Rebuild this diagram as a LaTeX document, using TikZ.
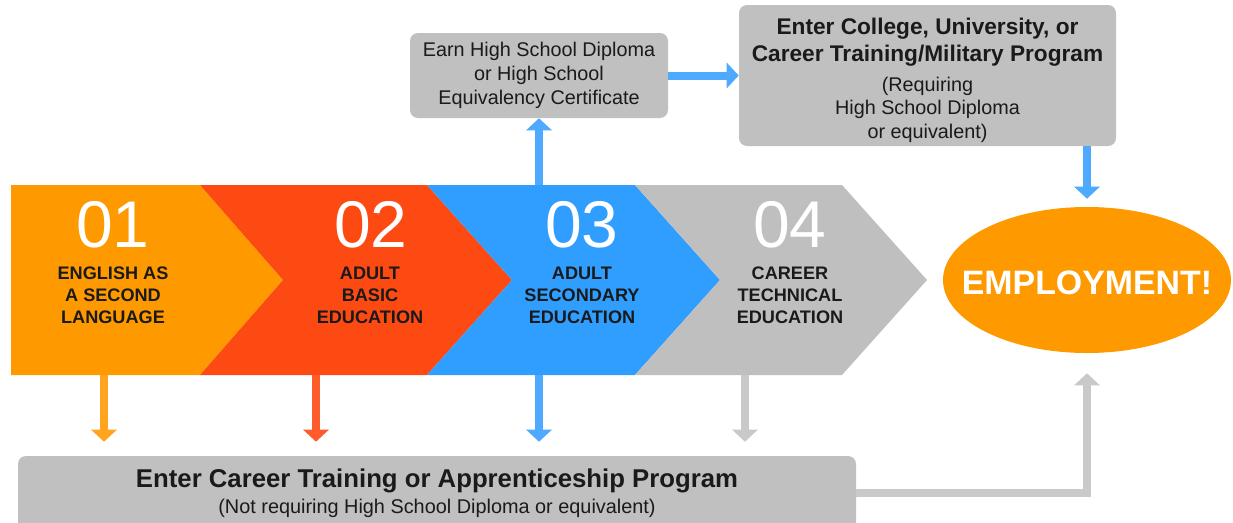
\documentclass[tikz,border=0pt]{standalone}
\usepackage{fontspec}
\setmainfont{Liberation Sans}
\usetikzlibrary{arrows.meta,shapes.geometric}
\definecolor{eslorange}{HTML}{FF9900}
\definecolor{abered}{HTML}{FC4A12}
\definecolor{aseblue}{HTML}{2F9EFF}
\definecolor{ctegray}{HTML}{BFBFBF}
\definecolor{boxgray}{HTML}{C0C0C0}
\definecolor{boxtext}{HTML}{1A1A1A}
\definecolor{arroworange}{HTML}{FFA41F}
\definecolor{arrowred}{HTML}{FF5C2B}
\definecolor{arrowblue}{HTML}{4DAAFF}
\definecolor{arrowgray}{HTML}{C9C9C9}
\newdimen\pxu \pxu=0.75pt
\newcommand\headfont[1]{\bfseries\fontsize{#1}{#1}\selectfont}

\begin{document}
\begin{tikzpicture}[x=\pxu,y=-\pxu]
\tikzset{num/.style={text=white,inner sep=0pt,font=\fontsize{49.5}{50}\selectfont}}
\tikzset{stage/.style={align=center,text=boxtext,inner sep=0pt,font=\bfseries\fontsize{13.6}{16.5}\selectfont}}
\tikzset{grbox/.style={fill=boxgray,rounded corners=6pt,inner sep=0pt,align=center,text=boxtext}}
\tikzset{fat/.style={line width=6pt,-{Triangle[width=18.75pt,length=9pt]}}}
\useasboundingbox (0,0) rectangle (1233,522);
\fill[eslorange] (11,185) -- (200,185) -- (283,280) -- (200,375) -- (11,375) -- cycle;
\fill[abered] (200,185) -- (427,185) -- (512,280) -- (427,375) -- (200,375) -- (283,280) -- cycle;
\fill[aseblue] (427,185) -- (635,185) -- (720,280) -- (635,375) -- (427,375) -- (512,280) -- cycle;
\fill[ctegray] (635,185) -- (842,185) -- (927,280) -- (842,375) -- (635,375) -- (720,280) -- cycle;
\node[num] (eslnum) at (113,225) {01}; \node[stage] (esl) at (113,295) {ENGLISH AS\\A SECOND\\LANGUAGE};
\node[num] (abenum) at (371,225) {02}; \node[stage] (abe) at (370,295) {ADULT\\BASIC\\EDUCATION};
\node[num] (asenum) at (582,225) {03}; \node[stage] (ase) at (582,295) {ADULT\\SECONDARY\\EDUCATION};
\node[num] (ctenum) at (790,225) {04}; \node[stage] (cte) at (790,295) {CAREER\\TECHNICAL\\EDUCATION};
\node[grbox,minimum width=193.5pt,minimum height=63.75pt,font=\fontsize{14.85}{18}\selectfont] (hsd) at (539,75.5)
        {Earn High School Diploma\\or High School\\Equivalency Certificate};
\node[grbox,minimum width=282.75pt,minimum height=105.75pt] (college) at (927.5,75.5) {};
\node[align=center,text=boxtext,inner sep=0pt,font=\fontsize{14.85}{17.6}\selectfont] (collegetext) at (927.5,80)
        {\headfont{17}Enter College, University, or\\[2.65pt]\headfont{17}Career Training/Military Program\\[4.9pt]
        (Requiring\\High School Diploma\\or equivalent)};
\node[grbox,minimum width=628.5pt,minimum height=55.5pt,font=\fontsize{14.9}{19.5}\selectfont] (train) at (437,493)
        {\headfont{19.3}Enter Career Training or Apprenticeship Program\\(Not requiring High School Diploma or equivalent)};
\node[ellipse,fill=eslorange,minimum width=216pt,minimum height=109.5pt,inner sep=0pt] (employ) at (1087,280) {};
\node[text=white,inner sep=0pt,font=\bfseries\fontsize{25.4}{26}\selectfont] (employtext) at (1087,283) {EMPLOYMENT!};
\coordinate (esldown) at (104,375); \coordinate (abedown) at (316,375);
\coordinate (asedown) at (539,375); \coordinate (ctedown) at (745,375);
\coordinate (aseup) at (539,185);
\draw[fat,arroworange,shorten >=10.5pt] (esldown) -- (esldown |- train.north);
\draw[fat,arrowred,shorten >=10.5pt] (abedown) -- (abedown |- train.north);
\draw[fat,arrowblue,shorten >=10.5pt] (asedown) -- (asedown |- train.north);
\draw[fat,arrowgray,shorten >=10.5pt] (ctedown) -- (ctedown |- train.north);
\draw[fat,arrowblue] (aseup) -- (hsd.south);
\draw[fat,arrowblue] (hsd.east) -- (college.west);
\draw[fat,arrowblue,shorten >=6pt] (college.south -| employ.north) -- (employ.north);
\draw[fat,arrowgray,shorten >=15pt] (train.east) -| (employ.south);
\end{tikzpicture}
\end{document}
